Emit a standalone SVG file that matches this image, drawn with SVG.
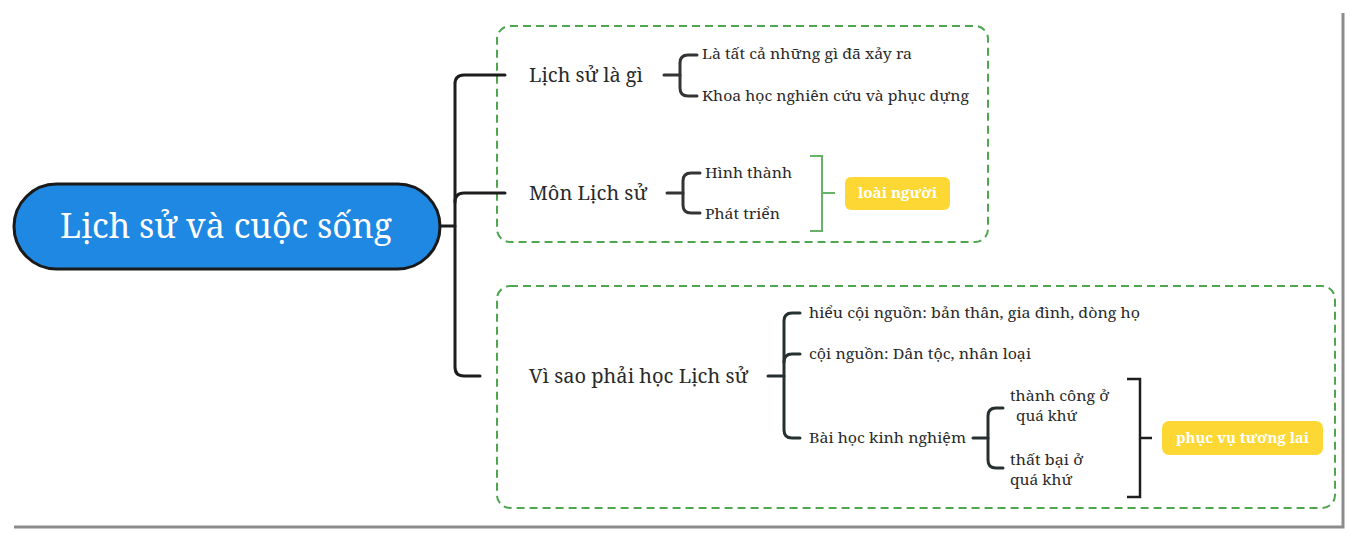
<svg xmlns="http://www.w3.org/2000/svg" width="1352" height="538" viewBox="0 0 1352 538">
<style>
text{font-family:"Noto Serif","DejaVu Serif","Liberation Serif",serif;fill:#2a2a2a}
.t15{font-size:15px}
.t20{font-size:20px}
.frame{stroke:#8c8c8c;stroke-width:3;fill:none}
.box{fill:none;stroke:#4ea64e;stroke-width:2;stroke-dasharray:8 5}
.main{fill:none;stroke:#1c1c1c;stroke-width:3;stroke-linecap:round}
.sub{fill:none;stroke:#343434;stroke-width:3;stroke-linecap:round}
.sub2{fill:none;stroke:#263030;stroke-width:3;stroke-linecap:round}
.gsum{fill:none;stroke:#66b266;stroke-width:2}
.ksum{fill:none;stroke:#1e1e1e;stroke-width:2.5}
.tag{fill:#fdd835}
.tagt{fill:#ffffff;font-weight:bold;font-size:15px}
</style>
<rect width="1352" height="538" fill="#ffffff"/>
<path class="frame" d="M1343,13 V527 H14"/>
<g id="boxes">
<rect class="box" x="497" y="26" width="491" height="216" rx="13"/>
<rect class="box" x="497" y="286" width="838" height="222" rx="13"/>
</g>
<g id="connectors">
<path class="main" d="M440,226 H455"/>
<path class="main" d="M505,75 H464 Q455,75 455,84 V367 Q455,376 464,376 H480"/>
<path class="main" d="M455,202 Q455,193 464,193 H505"/>
<path class="sub" d="M664,75 H680"/>
<path class="sub" d="M697,55 H688 Q680,55 680,63 V88 Q680,96 688,96 H697"/>
<path class="sub" d="M667,193 H683"/>
<path class="sub" d="M700,173 H691 Q683,173 683,181 V205 Q683,213 691,213 H700"/>
<path class="gsum" d="M810,156 H822 V231 H810 M822,193 H835"/>
<path class="sub2" d="M768,376 H784"/>
<path class="sub2" d="M800,313 H792 Q784,313 784,321 V430 Q784,438 792,438 H800"/>
<path class="sub2" d="M784,362 Q784,354 792,354 H800"/>
<path class="sub2" d="M973,438 H988"/>
<path class="sub2" d="M1003,408 H996 Q988,408 988,416 V460 Q988,468 996,468 H1003"/>
<path class="ksum" d="M1127,379 H1140 V497 H1127 M1140,438 H1152"/>
</g>
<g id="root">
<rect x="14" y="184" width="426" height="85" rx="42.5" fill="#1f88e2" stroke="#1a1a1a" stroke-width="3"/>
<text x="60" y="238" font-size="34" style="fill:#ffffff" textLength="332" lengthAdjust="spacingAndGlyphs">Lịch sử và cuộc sống</text>
</g>
<g id="n-lichsulagi"><text class="t20" x="529" y="82" textLength="114" lengthAdjust="spacingAndGlyphs">Lịch sử là gì</text></g>
<g id="n-la-tat-ca"><text class="t15" x="702" y="59" textLength="210" lengthAdjust="spacingAndGlyphs">Là tất cả những gì đã xảy ra</text></g>
<g id="n-khoa-hoc"><text class="t15" x="702" y="101" textLength="267" lengthAdjust="spacingAndGlyphs">Khoa học nghiên cứu và phục dựng</text></g>
<g id="n-mon"><text class="t20" x="529" y="200" textLength="118" lengthAdjust="spacingAndGlyphs">Môn Lịch sử</text></g>
<g id="n-hinh-thanh"><text class="t15" x="705" y="178" textLength="87" lengthAdjust="spacingAndGlyphs">Hình thành</text></g>
<g id="n-phat-trien"><text class="t15" x="705" y="219" textLength="75" lengthAdjust="spacingAndGlyphs">Phát triển</text></g>
<g id="n-loai-nguoi">
<rect class="tag" x="845" y="177" width="105" height="33" rx="6"/>
<text class="tagt" x="897.5" y="198" text-anchor="middle" textLength="79" lengthAdjust="spacingAndGlyphs">loài người</text>
</g>
<g id="n-vi-sao"><text class="t20" x="529" y="383" textLength="219" lengthAdjust="spacingAndGlyphs">Vì sao phải học Lịch sử</text></g>
<g id="n-hieu"><text class="t15" x="809" y="318" textLength="331" lengthAdjust="spacingAndGlyphs">hiểu cội nguồn: bản thân, gia đình, dòng họ</text></g>
<g id="n-coi-nguon"><text class="t15" x="809" y="359" textLength="222" lengthAdjust="spacingAndGlyphs">cội nguồn: Dân tộc, nhân loại</text></g>
<g id="n-bai-hoc"><text class="t15" x="809" y="443" textLength="157" lengthAdjust="spacingAndGlyphs">Bài học kinh nghiệm</text></g>
<g id="n-thanh-cong">
<text class="t15" x="1010" y="401" textLength="99" lengthAdjust="spacingAndGlyphs">thành công ở</text>
<text class="t15" x="1016" y="421" textLength="61" lengthAdjust="spacingAndGlyphs">quá khứ</text>
</g>
<g id="n-that-bai">
<text class="t15" x="1010" y="465" textLength="73" lengthAdjust="spacingAndGlyphs">thất bại ở</text>
<text class="t15" x="1010" y="485" textLength="62" lengthAdjust="spacingAndGlyphs">quá khứ</text>
</g>
<g id="n-phuc-vu">
<rect class="tag" x="1162" y="421" width="161" height="34" rx="7"/>
<text class="tagt" x="1242.5" y="443" text-anchor="middle" textLength="133" lengthAdjust="spacingAndGlyphs">phục vụ tương lai</text>
</g>
</svg>
